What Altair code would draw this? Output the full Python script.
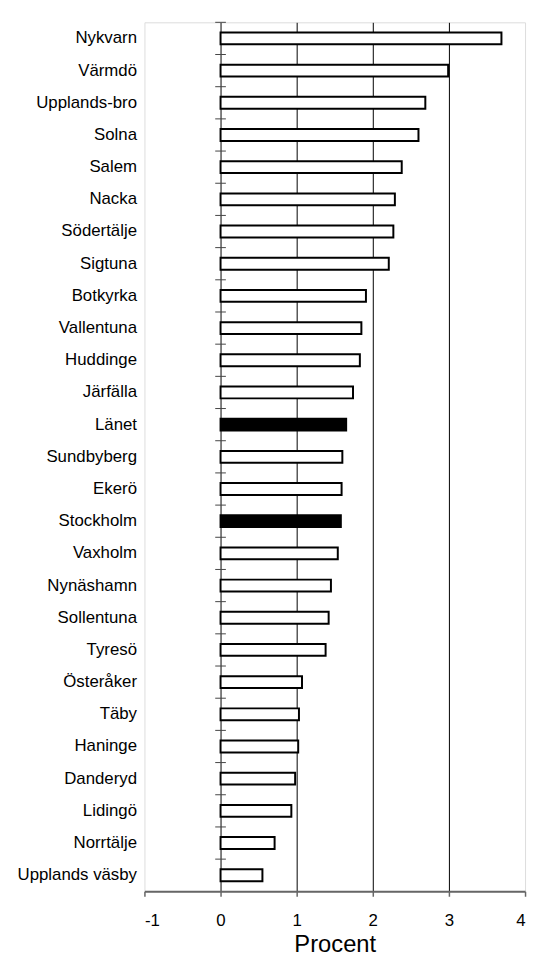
import altair as alt
import pandas as pd

municipalities = ["Nykvarn", "Värmdö", "Upplands-bro", "Solna", "Salem", "Nacka",
                  "Södertälje", "Sigtuna", "Botkyrka", "Vallentuna", "Huddinge",
                  "Järfälla", "Länet", "Sundbyberg", "Ekerö", "Stockholm", "Vaxholm",
                  "Nynäshamn", "Sollentuna", "Tyresö", "Österåker", "Täby", "Haninge",
                  "Danderyd", "Lidingö", "Norrtälje", "Upplands väsby"]
percent = [3.69, 2.99, 2.69, 2.60, 2.38, 2.29, 2.27, 2.21, 1.91, 1.85, 1.83, 1.74,
           1.65, 1.60, 1.59, 1.58, 1.54, 1.45, 1.42, 1.38, 1.07, 1.03, 1.02, 0.98,
           0.93, 0.71, 0.55]
highlighted = ["Länet", "Stockholm"]
x_ticks = [-1, 0, 1, 2, 3, 4]

df = pd.DataFrame({"kommun": municipalities, "procent": percent})
df["typ"] = ["markerad" if m in highlighted else "övrig" for m in municipalities]

FONT = "Liberation Sans"

y_enc = alt.Y("kommun:N", sort=municipalities,
              scale=alt.Scale(paddingInner=0, paddingOuter=0),
              axis=alt.Axis(title=None, ticks=False, domain=False, labelFontSize=17,
                            labelPadding=8, labelColor="black", labelFont=FONT,
                            labelLimit=200))

x_scale = alt.Scale(domain=[-1, 4], nice=False)

bars = alt.Chart(df).mark_bar(stroke="black", strokeWidth=2, size=12).encode(
    x=alt.X("procent:Q", scale=x_scale,
            axis=alt.Axis(values=x_ticks, labelExpr="'' + datum.value",
                          title="Procent", titleFontSize=24,
                          titleFont=FONT, titleFontWeight="normal", titleColor="black",
                          titlePadding=4, labelFontSize=17, labelFont=FONT,
                          labelColor="black", labelPadding=17, tickSize=5,
                          tickColor="#666", tickWidth=1.5, domainColor="#666",
                          domainWidth=2, grid=True,
                          gridColor={"condition": {"test": "datum.value == -1 || datum.value == 4",
                                                   "value": "transparent"},
                                     "value": "black"},
                          gridWidth=1, gridOpacity=1)),
    y=y_enc,
    fill=alt.Fill("typ:N", scale=alt.Scale(domain=["markerad", "övrig"],
                                           range=["black", "white"]), legend=None),
)

ticks = alt.Chart(df).mark_rule(color="#444", strokeWidth=1).encode(
    y=alt.Y("kommun:N", sort=municipalities, bandPosition=0),
    x=alt.datum(-0.07),
    x2=alt.datum(0.07),
)

chart = alt.layer(ticks, bars).properties(
    width=385,
    height=879,
    title=alt.TitleParams("Befolkningsökning (%)", anchor="end", dx=-346, offset=12,
                          baseline="alphabetic", font="Liberation Serif",
                          fontSize=20, fontWeight="bold", color="black"),
    autosize=alt.AutoSizeParams(type="none"),
    padding={"left": 138, "top": 9, "right": 4, "bottom": 65},
).configure_view(stroke="#808080", strokeWidth=2).configure(background="white")

chart.save("out.html", embed_options={"renderer": "svg", "actions": False})
